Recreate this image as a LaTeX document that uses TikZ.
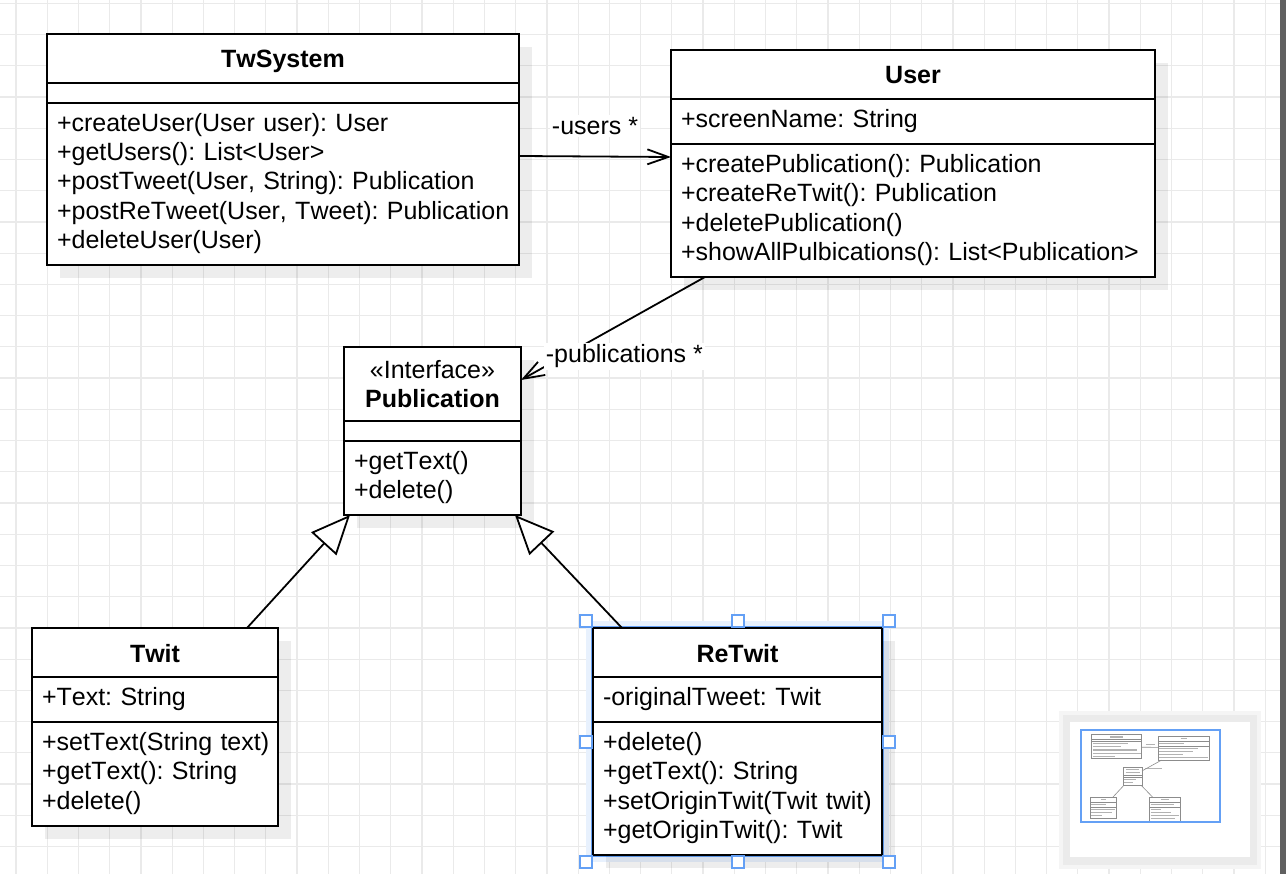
\documentclass[tikz,border=0pt]{standalone}
\usepackage{fontspec}
\setmainfont[Kerning = Off]{Liberation Sans}
\usetikzlibrary{arrows.meta, shadows}
\definecolor{gridgray}{RGB}{234,234,234}
\definecolor{selblue}{RGB}{100,160,245}
\definecolor{selfill}{RGB}{232,241,253}
\definecolor{barcolor}{RGB}{96,96,96}
\newcommand\umlfont{\fontsize{25}{29.3}\selectfont}
\newcommand\members[1]{\begin{tabular}{@{}l@{}}#1\end{tabular}}
\tikzstyle{gridline} = [draw = gridgray, line width = 1.2pt]
\tikzstyle{box} = [draw, line width = 2pt, fill = white, anchor = north west, outer sep = 0pt, inner xsep = 10pt, inner ysep = 0pt, font = \umlfont, drop shadow = {shadow xshift = 13pt, shadow yshift = -13pt, fill = black, opacity = 0.07}]
\tikzstyle{head} = [box, align = center, font = \umlfont\bfseries]
\tikzstyle{title} = [head, text height = 23pt, text depth = 4pt]
\tikzstyle{part} = [box, align = left]
\tikzstyle{assoc} = [draw, line width = 1.8pt, -{Straight Barb[length = 21pt, width = 15pt]}]
\tikzstyle{inherit} = [draw, line width = 1.8pt, -{Triangle[fill = white, length = 39pt, width = 34pt]}]
\tikzstyle{lbl} = [font = \umlfont, fill = white, inner sep = 2pt]
\tikzstyle{handle} = [draw = selblue, fill = white, line width = 1.2pt]
\tikzstyle{minibox} = [draw = black!45, line width = 0.6pt]
\tikzstyle{minitext} = [draw = black!30, line width = 1.1pt]

\begin{document}
\frenchspacing
\begin{tikzpicture}[x = 1pt, y = -1pt]
			% Canvas
			\fill [white] (0, 0) rectangle (1286, 874);
			\useasboundingbox (0, 0) rectangle (1286, 874);
			\foreach \k in {0, ..., 40}
				\draw [gridline] ({16 + 31.23 * \k}, 0) -- ({16 + 31.23 * \k}, 874);
			\foreach \k in {0, ..., 27}
				\draw [gridline] (0, {3.3 + 31.23 * \k}) -- (1280, {3.3 + 31.23 * \k});
			% Selection of ReTwit
			\fill [selfill] (586, 621) rectangle (889, 862);
			\draw [selblue, line width = 4pt] (593, 628) rectangle (882, 855);
			% Place nodes
			\node [title, minimum width = 472pt, minimum height = 49pt] (sys) at (47, 34) {TwSystem};
			\node [part, minimum width = 472pt, minimum height = 20pt] (sysattr) at (sys.south west) {};
			\node [part, text width = 452pt, minimum height = 162pt] (sysops) at (sysattr.south west) {\members{+createUser(User user): User\\+getUsers(): List<User>\\+postTweet(User, String): Publication\\+postReTweet(User, Tweet): Publication\\+deleteUser(User)}};
			\node [title, minimum width = 484pt, minimum height = 49pt] (user) at (671, 50) {User};
			\node [part, text width = 464pt, minimum height = 45pt] (userattr) at (user.south west) {\members{+screenName: String}};
			\node [part, text width = 464pt, minimum height = 133pt] (userops) at (userattr.south west) {\members{+createPublication(): Publication\\+createReTwit(): Publication\\+deletePublication()\\+showAllPulbications(): List<Publication>}};
			\node [head, minimum width = 177pt, minimum height = 74pt] (pub) at (344, 347) {{\mdseries «Interface»}\\Publication};
			\node [part, minimum width = 177pt, minimum height = 20pt] (pubattr) at (pub.south west) {};
			\node [part, text width = 157pt, minimum height = 74pt] (pubops) at (pubattr.south west) {\members{+getText()\\+delete()}};
			\node [title, minimum width = 246pt, minimum height = 49pt] (twit) at (32, 628) {Twit};
			\node [part, text width = 226pt, minimum height = 45pt] (twitattr) at (twit.south west) {\members{+Text: String}};
			\node [part, text width = 226pt, minimum height = 104pt] (twitops) at (twitattr.south west) {\members{+setText(String text)\\+getText(): String\\+delete()}};
			\node [title, minimum width = 289pt, minimum height = 49pt] (retwit) at (593, 628) {ReTwit};
			\node [part, text width = 269pt, minimum height = 45pt] (retwitattr) at (retwit.south west) {\members{-originalTweet: Twit}};
			\node [part, text width = 269pt, minimum height = 133pt] (retwitops) at (retwitattr.south west) {\members{+delete()\\+getText(): String\\+setOriginTwit(Twit twit)\\+getOriginTwit(): Twit}};
			% Draw edges
			\path [assoc] ([yshift = -53pt]sysops.north east) -- ([yshift = -13pt]userops.north west) node [lbl, midway, above = 19pt] {-users *};
			\path [assoc] ([xshift = 34pt]userops.south west) -- ([yshift = -33pt]pub.north east) node [lbl, pos = 1, anchor = base west, xshift = 22pt, yshift = 17pt] {-publications *};
			\path [inherit] ([xshift = 215pt]twit.north west) -- ([xshift = 6pt]pubops.south west);
			\path [inherit] ([xshift = 29pt]retwit.north west) -- ([xshift = -6pt]pubops.south east);
			% Handles
			\foreach \hx/\hy in {586/621, 738/621, 889/621, 586/742, 889/742, 586/862, 738/862, 889/862}
				\draw [handle] (\hx - 6, \hy - 6) rectangle ++(12, 12);
			% Scrollbar
			\fill [barcolor] (1280, 0) rectangle (1286, 874);
			% Outline view
			\fill [black!4] (1059, 711) rectangle (1261, 869);
			\fill [black!8] (1063, 715) rectangle (1257, 865);
			\fill [white] (1070, 722) rectangle (1250, 857);
			\begin{scope}[shift = {(1086.7, 730.7)}, scale = 0.106]
				\foreach \bx/\by/\bw/\bh/\ba/\bb in {47/34/472/231/83/103, 671/50/484/227/99/144, 344/347/177/168/421/441, 32/628/246/198/677/722, 593/628/289/227/677/722} {
					\draw [minibox] (\bx, \by) rectangle ++(\bw, \bh);
					\draw [minibox] (\bx, \ba) -- ++(\bw, 0) (\bx, \bb) -- ++(\bw, 0);
				}
				\foreach \tx/\ty/\tw in {223/59/122, 58/123/335, 58/153/268, 58/182/417, 58/212/450, 58/241/206, 887/75/55, 683/121/237, 683/165/363, 683/194/316, 683/223/224, 683/252/461, 371/370/124, 366/397/135, 355/463/112, 355/492/86, 133/653/47, 43/698/140, 43/743/225, 43/772/192, 43/801/100, 699/653/80, 604/698/217, 604/743/100, 604/772/193, 604/801/267, 604/830/229, 555/126/85, 548/355/160}
					\draw [minitext] (\tx, \ty) -- ++(\tw, 0);
				\draw [minibox] (521, 156) -- (671, 157) (705, 278) -- (521, 380) (247, 627) -- (350, 516) (622, 627) -- (515, 516);
			\end{scope}
			\draw [selblue, line width = 1.3pt] (1081, 730) rectangle (1220, 822);
		\end{tikzpicture}
\end{document}
